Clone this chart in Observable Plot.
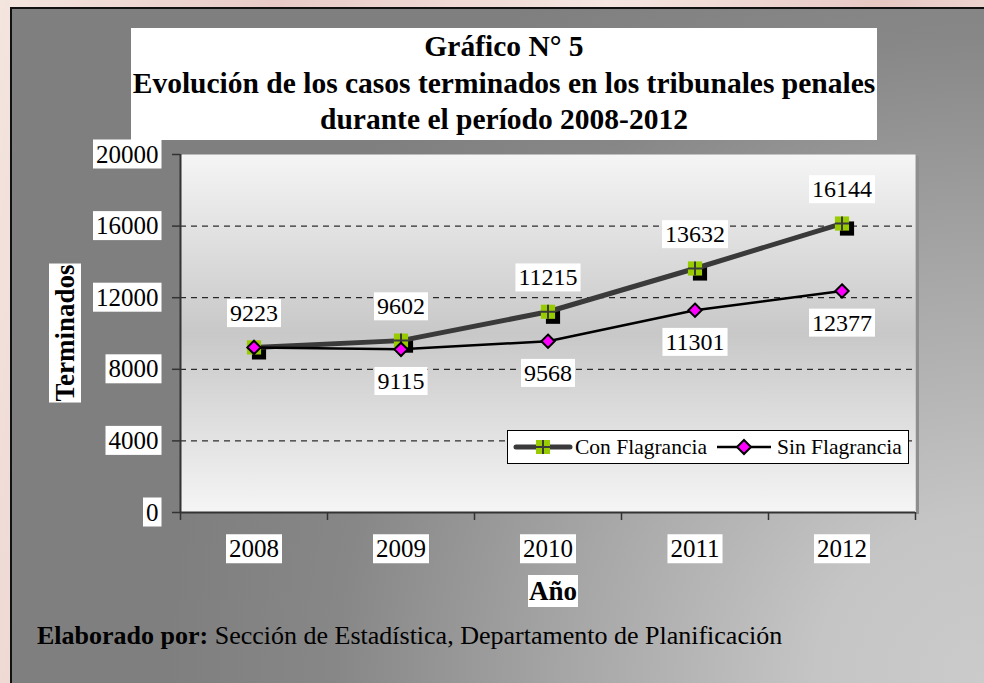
<!DOCTYPE html>
<html>
<head>
<meta charset="utf-8">
<script src="https://cdn.jsdelivr.net/npm/d3@7"></script>
<script src="https://cdn.jsdelivr.net/npm/@observablehq/plot@0.6"></script>
<style>
html, body { margin: 0; padding: 0; width: 984px; height: 683px; overflow: hidden; }
body {
  position: relative;
  font-family: "Liberation Serif", "Times New Roman", serif;
  background: linear-gradient(100deg, #f4e5df 0%, #e8cbc6 25%, #f5e6e1 55%, #e7c8c3 80%, #f2e0da 100%);
}
#frame {
  position: absolute; left: 10px; top: 7px; width: 1000px; height: 720px;
  border: 2px solid #111;
  background: radial-gradient(circle at 974px 676px, #cbcbcb 0px, #c5c5c5 170px, #a6a6a6 420px, #878787 650px, #7f7f7f 820px);
}
#chart { position: absolute; left: 0; top: 0; }
#title {
  position: absolute; left: 131px; top: 28px; width: 746px; height: 112px;
  background: #fff; text-align: center; font-weight: bold; font-size: 29.5px; line-height: 36.5px;
  color: #000; white-space: nowrap;
}
.axlabel { position: absolute; background: #fff; font-weight: bold; font-size: 27px; line-height: 32px; padding: 0 1px; color: #000; }
#xlabel { left: 553px; top: 591px; transform: translate(-50%, -50%); }
#ylabel { left: 65px; top: 333px; transform: translate(-50%, -50%) rotate(-90deg); }
#legend {
  position: absolute; left: 507px; top: 430px; width: 400px; height: 32px;
  background: #fff; border: 1px solid #000; display: flex; align-items: center;
  font-size: 21.5px; color: #000; white-space: nowrap;
}
#legend svg { display: block; }
#caption { position: absolute; left: 37px; top: 621px; font-size: 26px; color: #000; white-space: nowrap; }
</style>
</head>
<body>
<div id="frame"></div>
<div id="chart"></div>
<div id="title"></div>
<div id="ylabel" class="axlabel"></div>
<div id="xlabel" class="axlabel"></div>
<div id="legend"></div>
<div id="caption"></div>
<script>
// ---------- data ----------
const years = [2008, 2009, 2010, 2011, 2012];
const conFlagrancia = [9223, 9602, 11215, 13632, 16144];
const sinFlagrancia = [9223, 9115, 9568, 11301, 12377];
const sinLabelShown = [false, true, true, true, true]; // 2008 label hidden in the reference (overlaps)
const yTicks = [0, 4000, 8000, 12000, 16000, 20000];
const gridValues = [4000, 8000, 12000, 16000];
const seriesNames = ["Con Flagrancia", "Sin Flagrancia"];
const titleLines = ["Gráfico N° 5", "Evolución de los casos terminados en los tribunales penales", "durante el período 2008-2012"];
const xTitle = "Año";
const yTitle = "Terminados";
const captionBold = "Elaborado por:";
const captionText = " Sección de Estadística, Departamento de Planificación";

// ---------- derived tables ----------
const con = years.map((year, i) => ({year, value: conFlagrancia[i]}));
const sin = years.map((year, i) => ({year, value: sinFlagrancia[i], shown: sinLabelShown[i]}));
const bounds = [...years.map(y => y - 0.5), years[years.length - 1] + 0.5];

const conLine = "#3a3a3a", conFill = "#99cc00", sinFill = "#ff00ff";

const plot = Plot.plot({
  width: 984, height: 683,
  marginLeft: 180, marginRight: 69, marginTop: 154, marginBottom: 171,
  style: {background: "transparent", fontFamily: "'Liberation Serif', 'Times New Roman', serif", color: "#000", overflow: "visible"},
  x: {type: "linear", domain: [bounds[0], bounds[bounds.length - 1]], axis: null},
  y: {domain: [0, 20000], axis: null},
  marks: [
    Plot.ruleX([bounds[bounds.length - 1]], {stroke: "#8f8f8f", strokeWidth: 3, dx: 2, dy: 2}),
    Plot.frame({fill: "#dcdcdc", stroke: "none"}),
    Plot.ruleY(gridValues, {stroke: "#000", strokeWidth: 1, strokeDasharray: "6,5"}),
    Plot.axisY({ticks: yTicks, tickSize: 8, tickPadding: 14, fontSize: 25, tickFormat: d => String(d), stroke: "#333", strokeWidth: 1.5, label: null}),
    Plot.axisX({ticks: bounds, tickSize: 8, tickFormat: () => "", stroke: "#333", strokeWidth: 1.5, label: null}),
    Plot.axisX({ticks: years, tickSize: 0, tickPadding: 27, fontSize: 25, tickFormat: d => String(d), label: null}),
    Plot.ruleX([bounds[0]], {stroke: "#333", strokeWidth: 2}),
    Plot.ruleY([0], {stroke: "#333", strokeWidth: 2}),
    // Con Flagrancia
    Plot.dot(con, {x: "year", y: "value", symbol: "square", r: 8, fill: "#000", dx: 5, dy: 5}),
    Plot.line(con, {x: "year", y: "value", stroke: conLine, strokeWidth: 5}),
    Plot.dot(con, {x: "year", y: "value", symbol: "square", r: 8, fill: conFill}),
    Plot.dot(con, {x: "year", y: "value", symbol: "plus", r: 4.6, stroke: conLine, strokeWidth: 2}),
    // Sin Flagrancia
    Plot.line(sin, {x: "year", y: "value", stroke: "#000", strokeWidth: 2.5}),
    Plot.dot(sin, {x: "year", y: "value", symbol: "diamond2", r: 6, fill: sinFill, stroke: "#000", strokeWidth: 2}),
    // labels
    Plot.text(con, {x: "year", y: "value", text: d => String(d.value), dy: -34, fontSize: 24, fill: "#000", className: "boxed"}),
    Plot.text(sin, {filter: d => d.shown, x: "year", y: "value", text: d => String(d.value), dy: 32, fontSize: 24, fill: "#000", className: "boxed"})
  ]
});

document.getElementById("chart").appendChild(plot);

// gradient for plot area
const ns = "http://www.w3.org/2000/svg";
const defs = document.createElementNS(ns, "defs");
defs.innerHTML = '<linearGradient id="plotGrad" x1="0" y1="0" x2="0" y2="1">' +
  '<stop offset="0" stop-color="#f5f5f5"/><stop offset="0.5" stop-color="#c8c8c8"/><stop offset="1" stop-color="#f5f5f5"/></linearGradient>';
plot.insertBefore(defs, plot.firstChild);
const fr = plot.querySelector('[aria-label="frame"]');
if (fr) {
  fr.setAttribute("fill", "url(#plotGrad)");
  fr.querySelectorAll("rect").forEach(r => r.setAttribute("fill", "url(#plotGrad)"));
}

// white boxes behind labels
function boxTexts(selector, padX, padY) {
  plot.querySelectorAll(selector).forEach(t => {
    if (!t.textContent) return;
    const b = t.getBBox();
    if (b.width === 0) return;
    const r = document.createElementNS(ns, "rect");
    r.setAttribute("x", b.x - padX);
    r.setAttribute("y", b.y - padY);
    r.setAttribute("width", b.width + 2 * padX);
    r.setAttribute("height", b.height + 2 * padY);
    r.setAttribute("fill", "#fff");
    r.setAttribute("stroke", "none");
    const tr = t.getAttribute("transform");
    if (tr) r.setAttribute("transform", tr);
    t.parentNode.insertBefore(r, t);
  });
}
boxTexts('g[aria-label="y-axis tick label"] text', 3, 1);
boxTexts('g[aria-label="x-axis tick label"] text', 3, 1);
boxTexts('g.boxed text, .boxed text', 3, 1);

// HTML texts
document.getElementById("title").innerHTML = titleLines.map(l => `<div>${l}</div>`).join("");
document.getElementById("xlabel").textContent = xTitle;
document.getElementById("ylabel").textContent = yTitle;
document.getElementById("caption").innerHTML = `<b>${captionBold}</b>${captionText}`;

// legend
const legend = document.getElementById("legend");
const conSw = `<svg width="62" height="30" style="margin-left:4px"><line x1="4" y1="15" x2="58" y2="15" stroke="${conLine}" stroke-width="5" stroke-linecap="round"/>` +
  `<rect x="24" y="8" width="14" height="14" fill="${conFill}"/><line x1="31" y1="8" x2="31" y2="22" stroke="${conLine}" stroke-width="2"/><line x1="24" y1="15" x2="38" y2="15" stroke="${conLine}" stroke-width="2"/></svg>`;
const sinSw = `<svg width="58" height="30" style="margin-left:8px"><line x1="2" y1="15" x2="56" y2="15" stroke="#000" stroke-width="2.5"/>` +
  `<path d="M29,8 L36,15 L29,22 L22,15 Z" fill="${sinFill}" stroke="#000" stroke-width="2"/></svg>`;
legend.innerHTML = `${conSw}<span style="margin-left:1px">${seriesNames[0]}</span>${sinSw}<span style="margin-left:4px">${seriesNames[1]}</span>`;
</script>
</body>
</html>
